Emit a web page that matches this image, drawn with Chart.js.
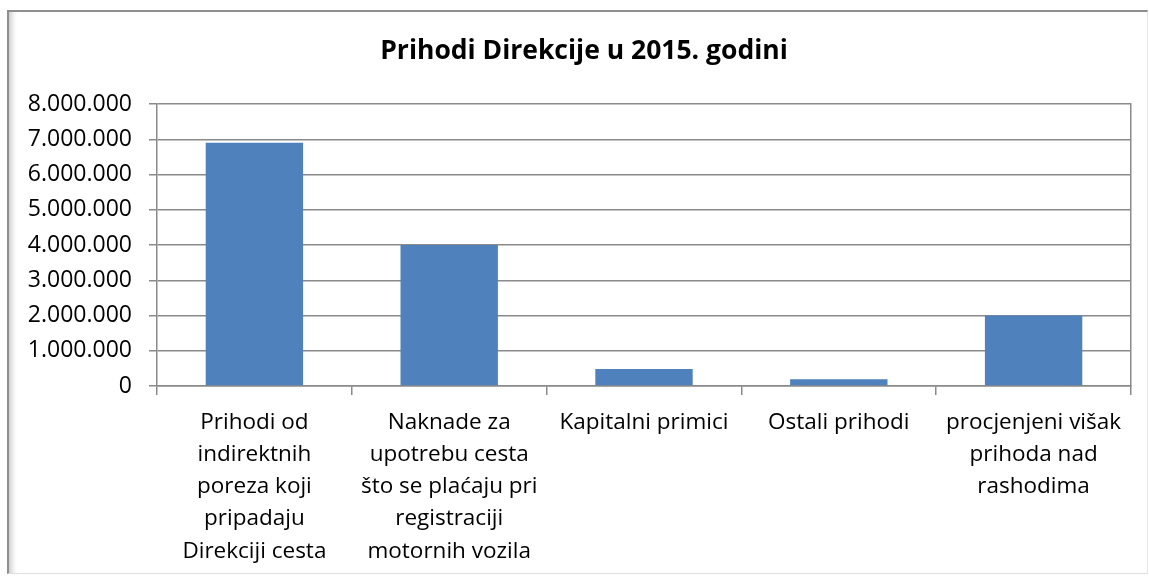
<!DOCTYPE html>
<html>
<head>
<meta charset="utf-8">
<script src="https://cdn.jsdelivr.net/npm/chart.js@4.4.1/dist/chart.umd.min.js"></script>
<style>
  html, body { margin: 0; padding: 0; background: #fff; overflow: hidden; }
  body { width: 1149px; height: 576px; position: relative; overflow: hidden; }
  #frame {
    position: absolute; left: 7px; top: 10px; width: 1138px; height: 561px;
    border-top: 2px solid #8e8e8e; border-left: 2px solid #8e8e8e;
    border-right: 1px solid #e6e6e6; border-bottom: 1px solid #e0e0e0;
    box-shadow: inset 7px 0 6px -5px rgba(0,0,0,0.25);
  }
  #wrap { position: absolute; left: 0; top: 0; width: 1168px; height: 576px; }
</style>
</head>
<body>
<div id="frame"></div>
<div id="wrap"><canvas id="c" width="1168" height="576"></canvas></div>
<script>
const title = "Prihodi Direkcije u 2015. godini";
const categories = [
  ["Prihodi od", "indirektnih", "poreza koji", "pripadaju", "Direkciji cesta"],
  ["Naknade za", "upotrebu cesta", "što se plaćaju pri", "registraciji", "motornih vozila"],
  ["Kapitalni primici"],
  ["Ostali prihodi"],
  ["procjenjeni višak", "prihoda nad", "rashodima"]
];
const values = [6900000, 4000000, 480000, 190000, 2000000];
const yTicks = [0, 1000000, 2000000, 3000000, 4000000, 5000000, 6000000, 7000000, 8000000];

function fmt(v) {
  return String(Math.round(v)).replace(/\B(?=(\d{3})+(?!\d))/g, '.');
}

const FONT = "'Open Sans', 'Noto Sans', sans-serif";
const LINE = '#8a8a8a';

new Chart(document.getElementById('c'), {
  type: 'bar',
  data: {
    labels: categories,
    datasets: [{
      data: values,
      backgroundColor: '#4f81bd',
      borderWidth: 0,
      barPercentage: 0.5,
      categoryPercentage: 1.0,
      yAxisID: 'y'
    }]
  },
  options: {
    responsive: false,
    animation: false,
    devicePixelRatio: 1,
    layout: { padding: { left: 0, right: 0, top: 0, bottom: 0 } },
    plugins: {
      legend: { display: false },
      tooltip: { enabled: false },
      title: {
        display: true,
        text: title,
        color: '#000',
        font: { family: FONT, size: 26.5, weight: 'bold', lineHeight: 1.2 },
        padding: { top: 36, bottom: 36.2 }
      }
    },
    scales: {
      x: {
        grid: { display: true, drawOnChartArea: false, drawTicks: true, tickLength: 9, color: LINE, lineWidth: 1.5, offset: true },
        border: { display: true, color: LINE, width: 1.5 },
        ticks: {
          color: '#000', autoSkip: false, maxRotation: 0, minRotation: 0, padding: 11,
          font: { family: FONT, size: 22.5, lineHeight: 1.436 }
        },
        afterFit(scale) { scale.height = 190; }
      },
      y: {
        position: 'left',
        min: 0, max: 8000000,
        afterBuildTicks(scale) { scale.ticks = yTicks.map(v => ({ value: v })); },
        grid: { display: true, drawOnChartArea: true, drawTicks: true, tickLength: 8, color: LINE, lineWidth: 1.5 },
        border: { display: true, color: LINE, width: 1.5 },
        ticks: {
          color: '#000', padding: 17,
          font: { family: FONT, size: 23 },
          callback: (v) => fmt(v)
        },
        afterFit(scale) { scale.width = 157; }
      },
      yRight: {
        position: 'right',
        min: 0, max: 8000000,
        grid: { display: false, drawTicks: false },
        border: { display: true, color: LINE, width: 1.5 },
        ticks: { display: false },
        afterFit(scale) { scale.width = 37; }
      }
    }
  }
});
</script>
</body>
</html>
